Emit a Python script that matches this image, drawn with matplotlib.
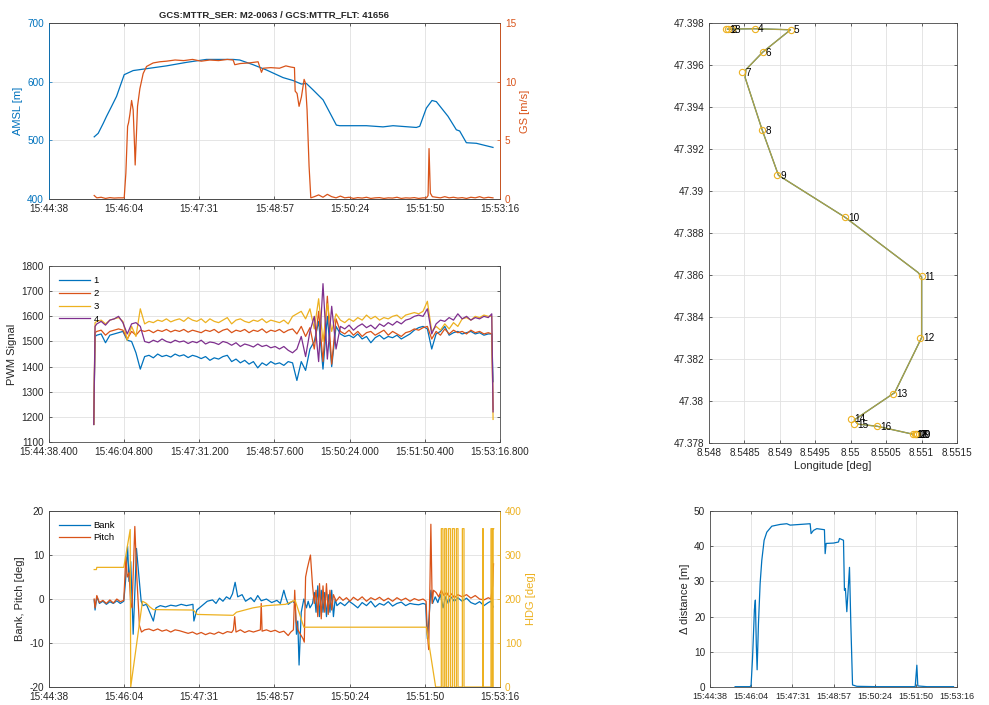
import numpy as np
import matplotlib.pyplot as plt
from matplotlib.ticker import MultipleLocator, FuncFormatter

# MATLAB default colour order
BLUE = "#0072BD"
ORANGE = "#D95319"
YELLOW = "#EDB120"
PURPLE = "#7E2F8E"
TRACK = "#ABA044"
GRID = "#e1e1e1"
INK = "#262626"

plt.rcParams["font.family"] = ["Liberation Sans", "DejaVu Sans"]
plt.rcParams["font.size"] = 7.2
plt.rcParams["axes.unicode_minus"] = False
plt.rcParams["axes.linewidth"] = 0.6
plt.rcParams["axes.edgecolor"] = "#4a4a4a"
plt.rcParams["xtick.direction"] = "in"
plt.rcParams["ytick.direction"] = "in"
plt.rcParams["xtick.major.size"] = 2.5
plt.rcParams["ytick.major.size"] = 2.5
plt.rcParams["xtick.major.width"] = 0.5
plt.rcParams["ytick.major.width"] = 0.5
plt.rcParams["xtick.color"] = INK
plt.rcParams["ytick.color"] = INK

TICK_FS = 7.2
LABEL_FS = 8

# time in seconds after 15:44:38.400
T0 = 15 * 3600 + 44 * 60 + 38.4
time_ticks = [0, 86.4, 172.8, 259.2, 345.6, 432.0, 518.4]

# ---- altitude / ground speed ----
amsl_t = [52.0, 56.6, 62.4, 66.2, 72.0, 77.7, 86.5, 96.8, 115.9, 135.1, 158.1, 181.0,
          211.7, 219.3, 234.6, 250.0, 269.1, 280.6, 290.2, 295.9, 303.6, 315.1, 330.4,
          334.2, 364.9, 384.0, 395.5, 422.3, 426.2, 433.8, 440.3, 445.3, 458.7, 468.3,
          472.1, 479.8, 491.3, 510.4]
amsl = [506, 512, 529, 541, 558, 575, 612, 619, 623, 627, 633, 638,
        638, 637, 629, 620, 607, 602, 596, 597, 586, 569, 526,
        525, 525, 523, 525, 522, 524, 555, 568, 566, 541, 518,
        516, 496, 495, 488]

gs_t = [52, 55, 60, 65, 70, 75, 80, 86.5, 88.4, 90.4, 91.5, 93.0, 95.0, 96.8, 98.4, 99.1,
        100.6, 101.8, 104.5, 108.3, 112.2, 119.8, 127.5, 135.1, 145, 155, 165, 175, 185,
        195, 205, 211.7, 213.6, 220, 230, 240.4, 244.3, 246.2, 255, 265, 272.3, 278,
        282.2, 283.0, 285.2, 287.5, 290.2, 293.3, 294.8, 296.7, 299.0, 301.0,
        305, 310, 315, 320, 325, 330, 335, 340, 345, 350, 355, 360, 365, 370, 375, 380,
        385, 390, 395, 400, 405, 410, 415, 420, 425, 430, 434, 435.8, 436.9, 438.4, 440.7,
        445, 450, 455, 460, 465, 470, 475, 480, 485, 490, 495, 500, 505, 510.4]
gs = [0.3, 0.1, 0.15, 0.05, 0.12, 0.08, 0.1, 0.1, 2.2, 6.2, 6.5, 7.2, 8.4, 7.6, 4.5, 2.9,
      5.6, 7.9, 9.4, 10.7, 11.3, 11.6, 11.7, 11.75, 11.85, 11.8, 11.9, 11.75, 11.85,
      11.8, 11.9, 11.85, 11.45, 11.55, 11.6, 11.7, 10.8, 11.15, 11.2, 11.15, 11.35, 11.25,
      11.2, 9.2, 9.0, 7.9, 8.7, 10.2, 9.9, 7.6, 2.8, 0.1,
      0.2, 0.35, 0.15, 0.4, 0.2, 0.1, 0.25, 0.1, 0.15, 0.05, 0.12, 0.08, 0.15, 0.05, 0.1, 0.12,
      0.05, 0.1, 0.08, 0.15, 0.05, 0.1, 0.08, 0.12, 0.05, 0.1, 0.1, 0.3, 4.3, 0.5, 0.2,
      0.15, 0.1, 0.2, 0.1, 0.15, 0.08, 0.12, 0.05, 0.15, 0.1, 0.2, 0.08, 0.15, 0.1]

# ---- PWM signals ----
pwm_t = [51.5, 53] + list(range(55, 510, 5)) + [509, 510.5]
pwm1 = [1170, 1520,
        1525, 1530, 1495, 1525, 1530, 1535, 1540, 1505, 1500, 1455,
        1390, 1440, 1445, 1435, 1450, 1440, 1445, 1438, 1450, 1442,
        1447, 1436, 1445, 1440, 1432, 1440, 1425, 1435, 1430, 1440,
        1445, 1420, 1430, 1415, 1425, 1410, 1420, 1395, 1415, 1405,
        1420, 1410, 1415, 1405, 1420, 1415, 1345, 1420, 1385, 1470,
        1500, 1580, 1390, 1600, 1400, 1560, 1530, 1520, 1525, 1515,
        1530, 1510, 1520, 1495, 1515, 1525, 1510, 1520, 1515, 1525,
        1510, 1520, 1530, 1545, 1555, 1560, 1550, 1470, 1530, 1540,
        1560, 1525, 1535, 1540, 1530, 1535, 1540, 1530, 1535, 1525,
        1530,
        1530, 1340]
pwm2 = [1170, 1535,
        1540, 1545, 1525, 1540, 1545, 1550, 1545, 1510, 1540, 1525,
        1545, 1540, 1545, 1535, 1545, 1540, 1548, 1538, 1545, 1540,
        1548, 1537, 1545, 1540, 1535, 1545, 1540, 1548, 1535, 1545,
        1550, 1535, 1545, 1540, 1548, 1535, 1545, 1540, 1550, 1535,
        1545, 1540, 1548, 1535, 1545, 1550, 1530, 1560, 1520, 1555,
        1470, 1620, 1420, 1680, 1410, 1590, 1540, 1530, 1545, 1525,
        1540, 1520, 1535, 1540, 1525, 1535, 1545, 1525, 1540, 1530,
        1520, 1535, 1540, 1550, 1545, 1555, 1560, 1510, 1540, 1525,
        1550, 1530, 1545, 1535, 1540, 1530, 1545, 1535, 1540, 1530,
        1535,
        1530, 1230]
pwm3 = [1170, 1575,
        1580, 1585, 1570, 1585, 1590, 1595, 1580, 1505, 1560, 1520,
        1630, 1570, 1580, 1575, 1585, 1580, 1590, 1578, 1585, 1590,
        1580, 1595, 1585, 1580, 1590, 1575, 1590, 1580, 1575, 1585,
        1595, 1570, 1585, 1590, 1580, 1575, 1585, 1580, 1590, 1575,
        1585, 1580, 1575, 1585, 1570, 1600, 1610, 1620, 1590, 1630,
        1550, 1670, 1500, 1650, 1540, 1610, 1585, 1575, 1590, 1580,
        1595, 1585, 1605, 1590, 1600, 1585, 1595, 1590, 1600, 1605,
        1590, 1605, 1610, 1615, 1610, 1620, 1660, 1540, 1560, 1545,
        1570, 1550, 1575, 1560, 1590, 1595, 1585, 1600, 1595, 1605,
        1600,
        1600, 1190]
pwm4 = [1170, 1560,
        1570, 1580, 1565, 1585, 1590, 1600, 1575, 1530, 1570, 1575,
        1560, 1500, 1495, 1505, 1498, 1510, 1500, 1495, 1505, 1498,
        1502, 1492, 1500, 1495, 1505, 1490, 1498, 1495, 1488, 1500,
        1495, 1485, 1495, 1480, 1490, 1485, 1478, 1490, 1480, 1485,
        1475, 1480, 1470, 1480, 1465, 1455, 1470, 1520, 1440, 1540,
        1600, 1420, 1730, 1430, 1640, 1470, 1560, 1550, 1565, 1545,
        1560, 1570, 1555, 1565, 1550, 1570, 1560, 1575, 1565, 1580,
        1570, 1585, 1590, 1600, 1605, 1600, 1630, 1530, 1570, 1585,
        1580, 1595, 1585, 1610, 1590, 1600, 1585, 1595, 1590, 1600,
        1595,
        1610, 1220]
pwm_labels = ["1", "2", "3", "4"]

# ---- attitude / heading ----
bank_t = [52, 53, 55, 58, 62, 66, 70, 74, 78, 82, 86, 88, 90.4, 92, 94, 96, 96.8, 99, 100.6,
          103, 106, 108, 112, 120, 123, 128, 134, 140, 146, 152, 158, 163, 165.5, 166.6, 170,
          176, 182, 188, 192, 196, 200, 204, 208, 211, 214, 217, 222, 226, 232, 236, 240,
          244, 250, 256, 262, 266, 270, 272, 275, 280, 283, 284.5, 286, 287.5, 290, 293,
          296, 298, 300, 303, 305, 307, 309, 311, 313, 315, 317, 319, 321, 323, 325, 327,
          329, 331, 335, 340, 345, 350, 355, 360, 365, 370, 375, 380, 385, 390, 395, 400,
          405, 410, 415, 420, 425, 430, 433, 435, 437, 439, 441, 444, 447, 450, 453, 456,
          459, 462, 466, 470, 475, 480, 485, 490, 495, 500, 505, 508, 510.5]
bank = [-0.2, -2.5, 0.5, -1, -0.5, -1.2, -0.6, -1, -0.4, -1, -0.5, 4, 12, 4, 8.5, -3, -8, 3, 11.5,
        6, -0.5, -1.5, -1.2, -5, -2, -1.5, -1.8, -1.4, -1.6, -1.2, -1.5, -1.3, -1.2, -5, -2.5,
        -1.5, -0.5, -0.2, -1, 0.2, -0.5, 0.5, 0, 1.2, 3.8, 0.5, 1, -0.5, 0.3, -0.6, 0.8,
        -0.4, 0, -0.8, -0.3, -1, 2, 0.5, -1.2, -0.5, -1, -8, -5, -15, -3, 0,
        -2, -0.5, -2, -1, 1.5, -3, 3, -4, 2, -3, 1.5, -4, 1, -3, 2, -4,
        0, -1.5, -0.8, -1.5, -0.5, -1.2, -2, -0.8, -1.5, -0.5, -1.8, -1, -1.4, -0.6, -1.6, -1,
        -0.7, -1.5, -1, -1.2, -1.3, -1, -1.2, -9, -4, 2, -1, 0.5, -0.8, 1, -2, 0.5,
        -1, 0.5, -0.5, 0.3, -0.5, 0.2, -0.8, -1.2, -0.6, -1.5, -0.8, -0.5, -1.8]

pitch_t = [52, 53, 55, 58, 62, 66, 70, 74, 78, 82, 86, 88.4, 90, 92, 94, 95.5, 98.7, 101, 104,
           106.4, 110, 115, 120, 125, 130, 135, 140, 145, 150, 155, 160, 165, 170, 175, 180,
           185, 190, 195, 200, 205, 210, 212, 213.5, 215, 220, 225, 230, 235, 240, 243, 244,
           245, 250, 255, 260, 265, 270, 275, 278, 281, 282.5, 284, 286, 289, 292, 293.5, 295,
           297, 300.6, 303, 305, 307, 309, 311, 313, 315, 317, 319, 321, 323, 325, 327, 330,
           334, 338, 342, 346, 350, 355, 360, 365, 370, 375, 380, 385, 390, 395, 400, 405,
           410, 415, 420, 425, 430, 433.5, 435, 436.5, 438, 439, 440.5, 442, 445, 448, 451,
           454, 457, 460, 463, 466, 470, 475, 480, 485, 490, 495, 500, 505, 508, 510, 511]
pitch = [0, -2, 0.8, -0.8, -0.3, -1, -0.2, -0.9, 0, -0.6, -0.3, 9.5, 5, 6, -1, -2, 16.5, 5, -6,
         -7.5, -7, -6.8, -7.2, -6.8, -7.3, -7, -7.5, -7, -7.2, -7.5, -7.8, -7.5, -8, -7.6, -8.1,
         -7.7, -8, -7.5, -7.9, -7.4, -7.6, -7, -4, -7.5, -7, -7.6, -7.2, -7.5, -7.2, -7, -1,
         -7.3, -7, -7.4, -7.1, -7.6, -7.3, -8.3, -7.5, -7, 2, -5, -7, -8, -9, -9.8, 5,
         7, 10, 3, -1, 2, -4, 3.5, -4.5, 3, -3, 3.5, -3.5, 2, -2.5, 1, -0.5,
         0.5, -0.3, 0.3, -0.5, 0.4, -0.3, 0.5, -0.5, 0.3, -0.2, 0.4, -0.4, 0.2, -0.5, 0.3, -0.3,
         0.2, -0.5, 0.1, -0.3, 0, -0.5, -8, -11.5, 4, 17, -1, 2, 1.5, 0.5, 2,
         0.8, 1.5, 0.5, 1.2, 0.3, 1, 0.5, 1, 0.2, 0.8, 0, -0.2, 0.3, 0, 3, 8]

hdg_t = [52, 54.5, 55, 86, 93.4, 94.0, 107.5, 112, 116, 120, 166, 170.4, 211.7, 215.5,
         234.6, 250, 272, 280, 283, 293, 433.8, 444.5,
         451.0, 451.0, 452.9, 452.9, 454.9, 454.9, 456.8, 456.8, 459.1, 459.1, 461.4, 461.4,
         463.7, 463.7, 466.0, 466.0, 468.3, 468.3, 470.2, 470.2, 475.2, 475.2, 477.1, 477.1,
         498.5, 498.5, 499.3, 499.3, 508.1, 508.1, 509.6, 509.6, 510.6, 510.6, 511.2]
hdg = [267, 267, 272, 272, 358, 0, 195, 190, 182, 176, 175, 165, 163, 170,
       180, 185, 188, 195, 197, 136, 136, 0,
       0, 360, 360, 0, 0, 360, 360, 0, 0, 360, 360, 0,
       0, 360, 360, 0, 0, 360, 360, 0, 0, 360, 360, 0,
       0, 360, 360, 0, 0, 360, 360, 0, 0, 360, 360]

# ---- map track and waypoints ----
track_lon = [8.54826, 8.54865, 8.54915, 8.54876, 8.54852, 8.54851, 8.54875, 8.54898,
             8.54992, 8.55095, 8.55100, 8.55100, 8.55062, 8.55005, 8.55010, 8.55037, 8.55089]
track_lat = [47.39771, 47.39773, 47.39768, 47.39662, 47.39578, 47.39540, 47.39291, 47.39075,
             47.38875, 47.38612, 47.38590, 47.38302, 47.38040, 47.37910, 47.37890, 47.37880,
             47.37841]
wp_lon = [8.54824, 8.54827, 8.54832, 8.54865, 8.54915, 8.54876, 8.54847, 8.54875, 8.54896,
          8.54992, 8.55100, 8.55098, 8.55060, 8.55001, 8.55005, 8.55037, 8.55088, 8.55090,
          8.55092, 8.55093]
wp_lat = [47.39770, 47.39771, 47.39772, 47.39773, 47.39768, 47.39662, 47.39566, 47.39291,
          47.39077, 47.38875, 47.38595, 47.38302, 47.38035, 47.37916, 47.37889, 47.37880,
          47.37841, 47.37842, 47.37843, 47.37842]
wp_names = [str(i) for i in range(1, 21)]

# ---- distance ----
dist_t = [52.5, 84, 86, 89, 91, 93, 95, 97, 98.7, 101.5, 105, 108.5, 113.4, 119, 129.5, 147,
          161, 168, 189, 210, 212, 217, 224, 240, 241.5, 243.6, 259, 269.5, 271.6, 280, 282,
          284, 287, 292.6, 295.4, 299, 308, 350, 385, 430.5, 434, 436, 455, 511]
dist = [0.1, 0.1, 0.5, 8, 14.8, 22, 24.7, 12, 4.9, 18, 29.4, 36, 41.7, 44, 45.7, 46.2,
        46.4, 46.0, 46.2, 46.4, 43.6, 44.5, 45, 44.7, 37.9, 40.8, 40.9, 41.2, 42.2, 41.7, 27.5,
        28, 21.4, 34, 18, 0.6, 0.2, 0.1, 0.1, 0.1, 6.2, 0.3, 0.1, 0.1]


def time_label(s, ms=False):
    x = T0 + s + 1e-6
    h = int(x // 3600)
    m = int(x % 3600 // 60)
    sec = x % 60
    if ms:
        return f"{h:02d}:{m:02d}:{sec:06.3f}"
    return f"{h:02d}:{m:02d}:{int(sec):02d}"


def time_axis(ax, ms=False, fs=TICK_FS):
    ax.set_xlim(time_ticks[0], time_ticks[-1])
    ax.set_xticks(time_ticks)
    ax.set_xticklabels([time_label(s, ms) for s in time_ticks], fontsize=fs)


def style(ax):
    ax.grid(True, color=GRID, linewidth=0.6)
    ax.set_axisbelow(True)
    ax.tick_params(top=True, right=True, labelsize=TICK_FS)


fig = plt.figure(figsize=(9.89, 7.05), dpi=100)

# ---------------- top: AMSL + GS ----------------
ax1 = fig.add_axes([0.0495, 0.7177, 0.456, 0.2496])
ax1.plot(amsl_t, amsl, color=BLUE, lw=0.9)
ax1.set_ylim(400, 700)
ax1.yaxis.set_major_locator(MultipleLocator(100))
style(ax1)
ax1.tick_params(right=False)
ax1.tick_params(axis="y", colors=BLUE)
ax1.set_ylabel("AMSL [m]", color=BLUE, fontsize=LABEL_FS, labelpad=3)
time_axis(ax1)
ax1.set_title("GCS:MTTR_SER: M2-0063 / GCS:MTTR_FLT: 41656", fontsize=6.8,
              fontweight="bold", pad=4, color=INK)
ax1r = ax1.twinx()
ax1r.plot(gs_t, gs, color=ORANGE, lw=0.9)
ax1r.set_ylim(0, 15)
ax1r.yaxis.set_major_locator(MultipleLocator(5))
ax1r.tick_params(axis="y", colors=ORANGE, labelsize=TICK_FS, direction="in", length=2.5)
ax1r.set_ylabel("GS [m/s]", color=ORANGE, fontsize=LABEL_FS, labelpad=3)
ax1r.spines["left"].set_color(BLUE)
ax1r.spines["right"].set_color(ORANGE)

# ---------------- middle: PWM ----------------
ax2 = fig.add_axes([0.0495, 0.373, 0.456, 0.2496])
for vals, col, lab in zip([pwm1, pwm2, pwm3, pwm4], [BLUE, ORANGE, YELLOW, PURPLE], pwm_labels):
    ax2.plot(pwm_t, vals, color=col, lw=0.9, label=lab)
ax2.set_ylim(1100, 1800)
ax2.yaxis.set_major_locator(MultipleLocator(100))
style(ax2)
ax2.set_ylabel("PWM Signal", fontsize=LABEL_FS, color=INK, labelpad=3)
time_axis(ax2, ms=True)
ax2.legend(loc="upper left", frameon=False, fontsize=6.8, handlelength=3.2,
           handletextpad=0.4, labelspacing=0.4, borderaxespad=0.7)

# ---------------- bottom: attitude + heading ----------------
ax3 = fig.add_axes([0.0495, 0.0255, 0.456, 0.2496])
ax3.plot(bank_t, bank, color=BLUE, lw=0.9, label="Bank")
ax3.plot(pitch_t, pitch, color=ORANGE, lw=0.9, label="Pitch")
ax3.set_ylim(-20, 20)
ax3.yaxis.set_major_locator(MultipleLocator(10))
style(ax3)
ax3.tick_params(right=False)
ax3.set_ylabel("Bank, Pitch [deg]", fontsize=LABEL_FS, color=INK, labelpad=3)
time_axis(ax3)
ax3.legend(loc="upper left", frameon=False, fontsize=6.8, handlelength=3.2,
           handletextpad=0.4, labelspacing=0.3, borderaxespad=0.7)
ax3r = ax3.twinx()
ax3r.plot(hdg_t, hdg, color=YELLOW, lw=0.9)
ax3r.set_ylim(0, 400)
ax3r.yaxis.set_major_locator(MultipleLocator(100))
ax3r.tick_params(axis="y", colors=YELLOW, labelsize=TICK_FS, direction="in", length=2.5)
ax3r.set_ylabel("HDG [deg]", color=YELLOW, fontsize=LABEL_FS, labelpad=3)
ax3r.spines["right"].set_color(YELLOW)

# ---------------- right top: map ----------------
ax4 = fig.add_axes([0.7169, 0.3716, 0.2508, 0.5957])
ax4.plot(track_lon, track_lat, color=BLUE, lw=0.8)
ax4.plot(track_lon, track_lat, color=TRACK, lw=1.0)
ax4.plot(wp_lon, wp_lat, "o", mfc="none", mec=YELLOW, ms=4.5, mew=0.8)
for lon, lat, name in zip(wp_lon, wp_lat, wp_names):
    ax4.annotate(name, (lon, lat), xytext=(2.2, -0.5), textcoords="offset points",
                 ha="left", va="center", fontsize=TICK_FS, color="black")
ax4.set_xlim(8.548, 8.5515)
ax4.set_ylim(47.378, 47.398)
ax4.xaxis.set_major_locator(MultipleLocator(0.0005))
ax4.yaxis.set_major_locator(MultipleLocator(0.002))
fmt = FuncFormatter(lambda v, p: f"{v:.6g}")
ax4.xaxis.set_major_formatter(fmt)
ax4.yaxis.set_major_formatter(fmt)
style(ax4)
ax4.set_xlabel("Longitude [deg]", fontsize=LABEL_FS, color=INK, labelpad=2)

# ---------------- right bottom: distance ----------------
ax5 = fig.add_axes([0.718, 0.0255, 0.2497, 0.2496])
ax5.plot(dist_t, dist, color=BLUE, lw=0.9)
ax5.set_ylim(0, 50)
ax5.yaxis.set_major_locator(MultipleLocator(10))
style(ax5)
time_axis(ax5, fs=6.5)
ax5.set_ylabel("Δ distance [m]", fontsize=LABEL_FS, color=INK, labelpad=3)

fig.savefig("out.png", dpi=100)
